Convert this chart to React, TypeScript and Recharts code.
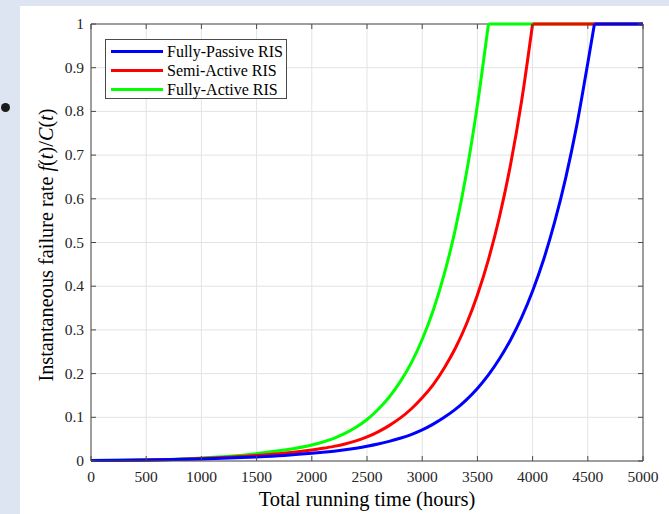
import { LineChart, Line, XAxis, YAxis, CartesianGrid, ReferenceLine, Legend } from 'recharts';

// running time samples (hours) shared by the three curves
const hours = [
  0, 250, 500, 750, 1000, 1250, 1500, 1750, 2000,
  2100, 2200, 2300, 2400, 2500, 2600, 2700, 2800, 2900, 3000,
  3100, 3200, 3300, 3400, 3500, 3600, 3700, 3800, 3900, 4000,
  4100, 4200, 4300, 4400, 4500, 4560, 4600, 5000,
];

// f(t)/C(t), clipped at 1
const fullyPassive = [
  0.001, 0.0015, 0.0022, 0.0033, 0.0048, 0.0068, 0.0094, 0.0128, 0.0175,
  0.0198, 0.0225, 0.0257, 0.0294, 0.0337, 0.0388, 0.0448, 0.052, 0.0605, 0.0711,
  0.0843, 0.0999, 0.118, 0.14, 0.166, 0.197, 0.234, 0.277, 0.328, 0.389,
  0.461, 0.547, 0.648, 0.768, 0.911, 1, 1, 1,
];
const semiActive = [
  0.001, 0.0014, 0.0023, 0.0035, 0.0058, 0.0088, 0.0125, 0.018, 0.025,
  0.029, 0.0335, 0.039, 0.046, 0.055, 0.0667, 0.081, 0.098, 0.119, 0.1446,
  0.175, 0.213, 0.258, 0.313, 0.38, 0.461, 0.559, 0.678, 0.823, 1,
  1, 1, 1, 1, 1, 1, 1, 1,
];
const fullyActive = [
  0.001, 0.0015, 0.0025, 0.004, 0.007, 0.011, 0.017, 0.025, 0.0367,
  0.0435, 0.052, 0.063, 0.077, 0.095, 0.118, 0.146, 0.181, 0.224, 0.278,
  0.345, 0.428, 0.53, 0.658, 0.815, 1, 1, 1, 1, 1,
  1, 1, 1, 1, 1, 1, 1, 1,
];

const xTicks = [0, 500, 1000, 1500, 2000, 2500, 3000, 3500, 4000, 4500, 5000];
const yTicks = [0, 0.1, 0.2, 0.3, 0.4, 0.5, 0.6, 0.7, 0.8, 0.9, 1];

const series = [
  { key: 'passive', name: 'Fully-Passive RIS', color: '#0000ff', values: fullyPassive },
  { key: 'semi', name: 'Semi-Active RIS', color: '#ff0000', values: semiActive },
  { key: 'active', name: 'Fully-Active RIS', color: '#00ff00', values: fullyActive },
];

// split each curve where it saturates: smooth rise + flat part (keeps the sharp corner)
const data = hours.map((t, i) => {
  const row: Record<string, number | null> = { t };
  series.forEach((s) => {
    const k = s.values.indexOf(1);
    row[s.key + 'Rise'] = i <= k ? s.values[i] : null;
    row[s.key + 'Flat'] = i >= k ? s.values[i] : null;
  });
  return row;
});

const FONT = '"Liberation Serif", "DejaVu Serif", serif';
const AXIS = '#4a4a4a';
const TICK_TEXT = '#262626';
const PLOT = { left: 91, top: 24, right: 643, bottom: 461 };

function XTick({ x, payload }: any) {
  return (
    <g>
      <line x1={x} x2={x} y1={PLOT.bottom} y2={PLOT.bottom - 5} stroke={AXIS} />
      <line x1={x} x2={x} y1={PLOT.top} y2={PLOT.top + 5} stroke={AXIS} />
      <text x={x} y={PLOT.bottom + 21} textAnchor="middle" fontFamily={FONT} fontSize={15.5} fill={TICK_TEXT}>
        {payload.value}
      </text>
    </g>
  );
}

function YTick({ y, payload }: any) {
  return (
    <g>
      <line x1={PLOT.left} x2={PLOT.left + 5} y1={y} y2={y} stroke={AXIS} />
      <line x1={PLOT.right} x2={PLOT.right - 5} y1={y} y2={y} stroke={AXIS} />
      <text x={PLOT.left - 7} y={y + 5} textAnchor="end" fontFamily={FONT} fontSize={15.5} fill={TICK_TEXT}>
        {String(payload.value)}
      </text>
    </g>
  );
}

function XTitle() {
  return (
    <text x={367} y={506} textAnchor="middle" fontFamily={FONT} fontSize={20.5} fill="#000">
      Total running time (hours)
    </text>
  );
}

function YTitle() {
  const cx = 53;
  const cy = 245;
  return (
    <text x={cx} y={cy} transform={`rotate(-90, ${cx}, ${cy})`} textAnchor="middle" fontFamily={FONT} fontSize={20.3} fill="#000">
      Instantaneous failure rate <tspan fontStyle="italic">f</tspan>(<tspan fontStyle="italic">t</tspan>)/<tspan fontStyle="italic">C</tspan>(<tspan fontStyle="italic">t</tspan>)
    </text>
  );
}

function LegendBox() {
  return (
    <div
      style={{
        width: 180,
        height: 58,
        border: '1px solid #4a4a4a',
        background: '#fff',
        fontFamily: FONT,
        fontSize: 16,
        color: '#000',
        position: 'relative',
        boxSizing: 'content-box',
      }}
    >
      {series.map((s, i) => (
        <div key={s.key} style={{ position: 'absolute', left: 0, top: 2 + i * 19, height: 19, display: 'flex', alignItems: 'center' }}>
          <div style={{ width: 52, height: 3.5, background: s.color, marginLeft: 5, marginRight: 4 }} />
          <span style={{ whiteSpace: 'nowrap', lineHeight: '19px' }}>{s.name}</span>
        </div>
      ))}
    </div>
  );
}

export default function App() {
  // draw order: green, red, blue (blue on top, as in the figure)
  const drawOrder = [series[2], series[1], series[0]];
  return (
    <div style={{ position: 'fixed', left: 0, top: 0, width: 669, height: 514, background: '#dde4f2', overflow: 'hidden' }}>
      <div style={{ position: 'absolute', left: 20, top: 6, right: 0, bottom: 0, background: '#fff' }} />
      <div style={{ position: 'absolute', left: 1, top: 103, width: 9, height: 9, borderRadius: '50%', background: '#1a1a1a' }} />
      <div style={{ position: 'absolute', left: 0, top: 0 }}>
        <LineChart width={669} height={514} data={data} margin={{ top: PLOT.top, right: 669 - PLOT.right, bottom: 0, left: 0 }}>
          <CartesianGrid stroke="#e3e3e3" strokeWidth={1} />
          <XAxis
            dataKey="t"
            type="number"
            domain={[0, 5000]}
            ticks={xTicks}
            interval={0}
            height={514 - PLOT.bottom}
            tickLine={false}
            axisLine={{ stroke: AXIS }}
            tick={XTick}
            label={<XTitle />}
          />
          <YAxis
            type="number"
            domain={[0, 1]}
            ticks={yTicks}
            interval={0}
            width={PLOT.left}
            tickLine={false}
            axisLine={{ stroke: AXIS }}
            tick={YTick}
            label={<YTitle />}
          />
          <ReferenceLine y={1} stroke={AXIS} />
          <ReferenceLine x={5000} stroke={AXIS} />
          {drawOrder.map((s) => [
            <Line
              key={s.key + 'Flat'}
              type="linear"
              dataKey={s.key + 'Flat'}
              name={s.name}
              stroke={s.color}
              strokeWidth={3}
              dot={false}
              activeDot={false}
              isAnimationActive={false}
            />,
            <Line
              key={s.key + 'Rise'}
              type="monotone"
              dataKey={s.key + 'Rise'}
              name={s.name}
              stroke={s.color}
              strokeWidth={3}
              strokeLinejoin="round"
              dot={false}
              activeDot={false}
              isAnimationActive={false}
            />,
          ])}
          <Legend
            layout="vertical"
            align="center"
            verticalAlign="middle"
            wrapperStyle={{ left: 105, top: 39, width: 182, height: 60 }}
            content={() => <LegendBox />}
          />
        </LineChart>
      </div>
    </div>
  );
}
